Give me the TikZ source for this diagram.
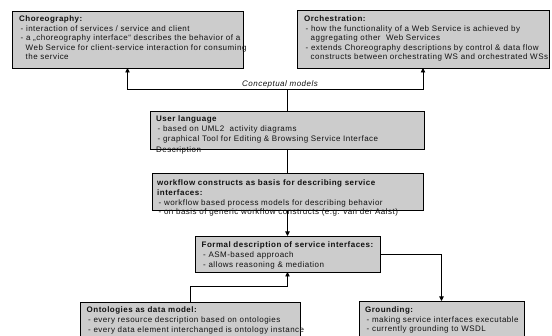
\documentclass[tikz,border=0pt]{standalone}
\usepackage{fontspec}
\setmainfont{Liberation Sans}[LetterSpace=6]
\usetikzlibrary{arrows.meta,shadows}
\definecolor{boxfill}{HTML}{CCCCCC}
\definecolor{ink}{HTML}{111111}
% bullet line and continuation line inside the panels
\newcommand\dashitem{\hspace*{1.5pt}- }
\newcommand\contitem{\hspace*{6.5pt}}

\begin{document}
\begin{tikzpicture}[x=1pt,y=-1pt,
  panel/.style={rectangle, draw=black, line width=0.8pt, fill=boxfill,
    anchor=north west, inner sep=0pt, outer sep=0pt,
    drop shadow={shadow xshift=0.9pt, shadow yshift=-0.9pt, fill=black!60, opacity=1}},
  blurb/.style={anchor=north west, inner sep=0pt, align=left, text=ink,
    font=\fontsize{8}{9.6}\selectfont},
  conn/.style={draw=black, line width=0.8pt},
  tip/.style={-{Triangle[length=4.5pt,width=4.5pt]}}
]
\useasboundingbox (0,0) rectangle (552,336);

% panels
\node[panel, minimum width=231pt, minimum height=57pt] (chor) at (12,11) {};
\node[panel, minimum width=252pt, minimum height=58pt] (orch) at (297,10) {};
\node[panel, minimum width=274pt, minimum height=38pt] (ul)   at (150,111) {};
\node[panel, minimum width=271pt, minimum height=37pt] (wf)   at (152,173) {};
\node[panel, minimum width=185pt, minimum height=36pt] (fd)   at (195,236) {};
\node[panel, minimum width=220pt, minimum height=45pt] (on)   at (80,302) {};
\node[panel, minimum width=165pt, minimum height=45pt] (gr)   at (359,301) {};

% panel texts
\node[blurb] (chortxt) at ([shift={(7,4.5)}]chor.north west) {%
  \textbf{Choreography:}\\
  \dashitem interaction of services / service and client\\
  \dashitem a „choreography interface“ describes the behavior of a\\
  \contitem Web Service for client-service interaction for consuming\\
  \contitem the service};
\node[blurb] (orchtxt) at ([shift={(7,5.5)}]orch.north west) {%
  \textbf{Orchestration:}\\
  \dashitem how the functionality of a Web Service is achieved by\\
  \contitem aggregating other\ \ Web Services\\
  \dashitem extends Choreography descriptions by control \& data flow\\
  \contitem constructs between orchestrating WS and orchestrated WSs.};
\node[blurb] (ultxt) at ([shift={(6,5)}]ul.north west) {%
  \textbf{User language}\\
  \dashitem based on UML2\ \ activity diagrams\\
  \dashitem graphical Tool for Editing \& Browsing Service Interface\\[1.5pt]
  Description};
\node[blurb] (wftxt) at ([shift={(5,7)}]wf.north west) {%
  \textbf{workflow constructs as basis for describing service}\\
  \textbf{interfaces:}\\
  \dashitem workflow based process models for describing behavior\\
  \dashitem on basis of generic workflow constructs (e.g. van der Aalst)};
\node[blurb] (fdtxt) at ([shift={(6.5,6)}]fd.north west) {%
  \textbf{Formal description of service interfaces:}\\
  \dashitem ASM-based approach\\
  \dashitem allows reasoning \& mediation};
\node[blurb] (ontxt) at ([shift={(6.5,5)}]on.north west) {%
  \textbf{Ontologies as data model:}\\
  \dashitem every resource description based on ontologies\\
  \dashitem every data element interchanged is ontology instance};
\node[blurb] (grtxt) at ([shift={(6,5.5)}]gr.north west) {%
  \textbf{Grounding:}\\
  \dashitem making service interfaces executable\\
  \dashitem currently grounding to WSDL};

% conceptual models fork
\coordinate (bar) at (0,89.5);
\node[text=ink, font=\fontsize{8}{8}\selectfont\itshape, inner sep=0pt] (cm) at (280,84) {Conceptual models};
\draw[conn, tip] (ul.north) -- (ul.north |- bar) -| (chor.south);
\draw[conn, tip] (ul.north |- bar) -| (orch.south);

% refinement chain
\draw[conn] (ul.south) -- (ul.south |- wf.north);
\draw[conn, tip] (wf.south) -- (wf.south |- fd.north);
\draw[conn, tip] (fd.east) -| (gr.north);
\draw[conn, tip] (on.north) -- ++(0,-16) -| (fd.south);
\end{tikzpicture}
\end{document}
